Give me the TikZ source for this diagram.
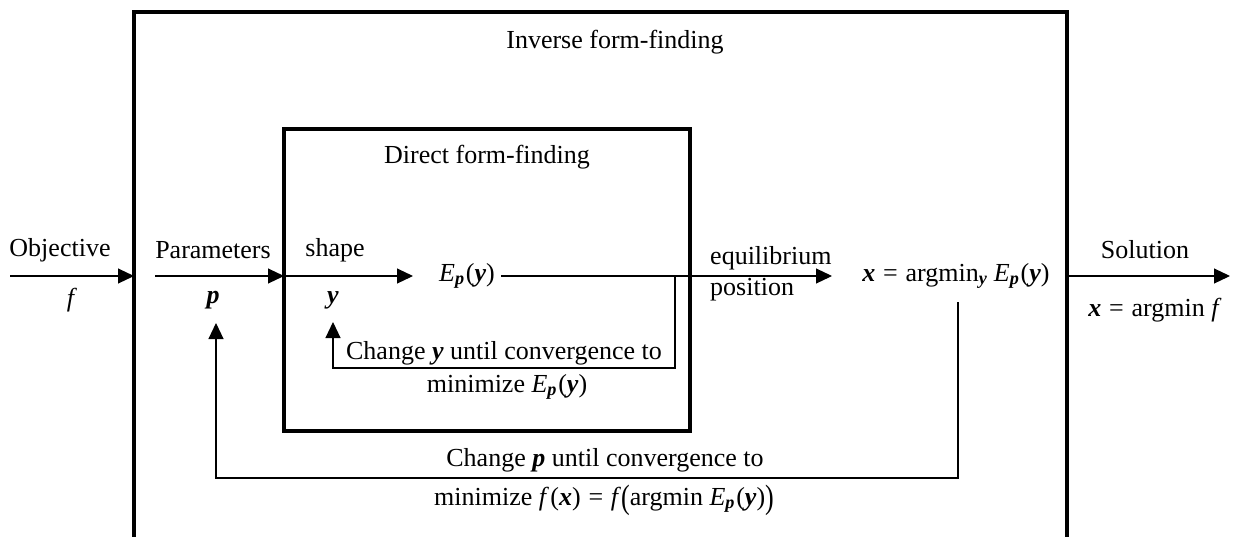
\documentclass[tikz,border=0pt]{standalone}
\usepackage{fontspec}
\usepackage{graphicx}
\setmainfont{Liberation Serif}
\usetikzlibrary{arrows.meta}
\newcommand\bi[1]{{\bfseries\itshape #1}}
\newcommand\Epy{\textit{E}\textsubscript{\bi{p}}\kern0.05em(\bi{y})}
\newcommand\eqs{\hspace{0.3em}=\hspace{0.3em}}
\newcommand\bigpar[1]{\raisebox{-0.12em}{\scalebox{1}[1.3]{#1}}}
\begin{document}
\begin{tikzpicture}[x=1pt,y=-1pt,
  every node/.style={font=\fontsize{26}{30}\selectfont, inner sep=0pt},
  boxline/.style={line width=4pt},
  thin/.style={line width=1.1pt},
  arr/.style={thin,-{Triangle[length=16pt,width=15pt]}}]
\useasboundingbox (0,0) rectangle (1238,536);
\clip (0,0) rectangle (1238,536);
% boxes
\draw[boxline] (134,12) rectangle (1067,560);
\draw[boxline] (284,129) rectangle (690,431);
\node (inv) at (615,42) {Inverse form-finding};
\node (dir) at (487,157) {Direct form-finding};
% coordinates on box edges
\coordinate (objS) at (10,276);
\coordinate (outL) at (134,276);
\coordinate (parS) at (155,276);
\coordinate (inL) at (284,276);
\coordinate (shT) at (413,276);
\coordinate (br) at (675,276);
\coordinate (brD) at (675,368);
\coordinate (yl) at (333,368);
\coordinate (eqT) at (832,276);
\coordinate (outR) at (1067,276);
\coordinate (solT) at (1230,276);
% labels
\node (obj) at (60,250) {Objective};
\node (f) at (72,300) {\textit{f}};
\node (par) at (213,250) {Parameters};
\node (p) at (213,300) {\bi{p}};
\node (shape) at (335,250) {shape};
\node (y) at (333,300) {\bi{y}};
\node (E) at (467,276) {\Epy};
\node[anchor=west] (eq1) at (710,258) {equilibrium};
\node[anchor=west] (eq2) at (710,290) {position};
\node (xa) at (956,276) {\bi{x}\eqs argmin\textsubscript{\bi{y}}\hspace{0.25em}\Epy};
\node (sol) at (1145,250) {Solution};
\node (xs) at (1155,310) {\bi{x}\eqs argmin \textit{f}};
\node (cy1) at (504,353) {Change \bi{y} until convergence to};
\node (cy2) at (507,387) {minimize \Epy};
\node (cp1) at (605,460) {Change \bi{p} until convergence to};
\node (cp2) at (604,500) {minimize \textit{f}\kern0.05em(\bi{x})\eqs\textit{f}\bigpar{(}argmin \Epy\bigpar{)}};
% connectors
\draw[arr] (objS) -- (outL);
\draw[arr] (parS) -- (inL);
\draw[arr] (inL) -- (shT);
\draw[thin] (E.east) ++(6,0) -- (br);
\draw[arr] (br) -- (eqT);
\draw[arr] (br) -- (brD) -- (yl) -- (333,322);
\draw[arr] (outR) -- (solT);
\draw[arr] (958,302) -- (958,478) -- (216,478) -- (216,323);
\end{tikzpicture}
\end{document}
